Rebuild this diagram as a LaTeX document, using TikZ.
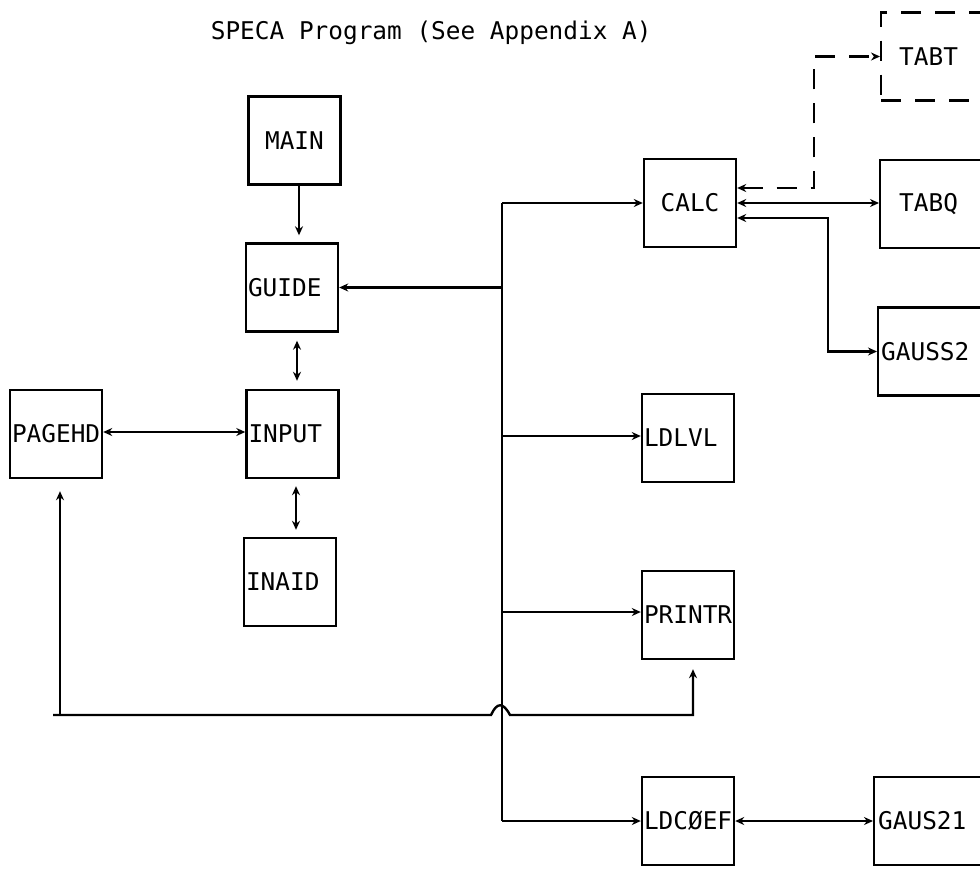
\documentclass[tikz,border=0pt]{standalone}
\usepackage{fontspec}
\setmainfont{DejaVu Sans Mono}
\usepackage{tikz}
\usetikzlibrary{arrows.meta}

\tikzset{
  box/.style={draw, minimum width=46pt, minimum height=44pt, inner sep=1pt},
  lbox/.style={box, text width=44pt, align=left},
  edgebox/.style={draw, anchor=west, minimum height=44pt, text width=140pt, align=left},
  dashedline/.style={dash pattern=on 10pt off 7pt},
}

\begin{document}
\begin{tikzpicture}[x=0.5pt, y=-0.5pt, >={Stealth[length=4.5pt,width=4pt]}, line width=1.2pt, font=\fontsize{12.2}{14}\selectfont]
\clip (0,0) rectangle (980,868);
\node[anchor=west] (title) at (203,33) {SPECA Program (See Appendix A)};

\node[box] (main) at (294.5,140.5) {MAIN};
\node[lbox] (guide) at (292,287.5) {GUIDE};
\node[lbox] (input) at (292.5,434) {INPUT};
\node[lbox] (inaid) at (290,582) {INAID};
\node[lbox] (pagehd) at (56,434) {PAGEHD};
\node[box] (calc) at (690,203) {CALC};
\node[lbox] (ldlvl) at (688,438) {LDLVL};
\node[lbox] (printr) at (688,615) {PRINTR};
\node[lbox] (ldcoef) at (688,821) {LDCØEF};
\node[edgebox, dashedline, inner xsep=9pt] (tabt) at (880,56.5) {TABT};
\node[edgebox, inner xsep=9.5pt] (tabq) at (879,204) {TABQ};
\node[edgebox, inner xsep=1.5pt] (gauss2) at (877,351.5) {GAUSS2};
\node[edgebox, inner xsep=2pt] (gaus21) at (873,821) {GAUS21};

\coordinate (bus) at (502,0);
\coordinate (jl) at (60,715);
\coordinate (jr) at (693,715);

\draw[->, shorten >=3.5pt] (main.south -| 299,0) -- (guide.north -| 299,0);
\draw[<->, shorten <=4pt, shorten >=4pt] (guide.south -| 297,0) -- (input.north -| 297,0);
\draw[<->, shorten <=3.5pt, shorten >=3.5pt] (input.south -| 296,0) -- (inaid.north -| 296,0);
\draw[<->] (pagehd.east |- 0,432) -- (input.west |- 0,432);

\draw (bus |- calc.west) -- (bus |- ldcoef.west);
\draw[->] (bus |- calc.west) -- (calc.west);
\draw[->] (bus |- guide.east) -- (guide.east);
\draw[->] (bus |- 0,436) -- (ldlvl.west |- 0,436);
\draw[->] (bus |- 0,612) -- (printr.west |- 0,612);
\draw[->] (bus |- ldcoef.west) -- (ldcoef.west);

\draw[->, shorten >=6pt] (jl) -- (jl |- pagehd.south);
\draw[->, shorten >=4.5pt] (53,715) -- (491,715) .. controls (497,702) and (503,702) .. (510,715) -- (jr) -- (jr |- printr.south);

\draw[<->] (calc.east) -- (calc.east -| tabq.west);
\draw[<->] ([yshift=-7.5pt]calc.east) -| (gauss2.west -| 828,0) -- (gauss2.west);
\draw[<->, dashedline] ([yshift=7.5pt]calc.east) -| (tabt.west -| 814,0) -- (tabt.west);
\draw[<->] (ldcoef.east) -- (ldcoef.east -| gaus21.west);
\end{tikzpicture}
\end{document}
